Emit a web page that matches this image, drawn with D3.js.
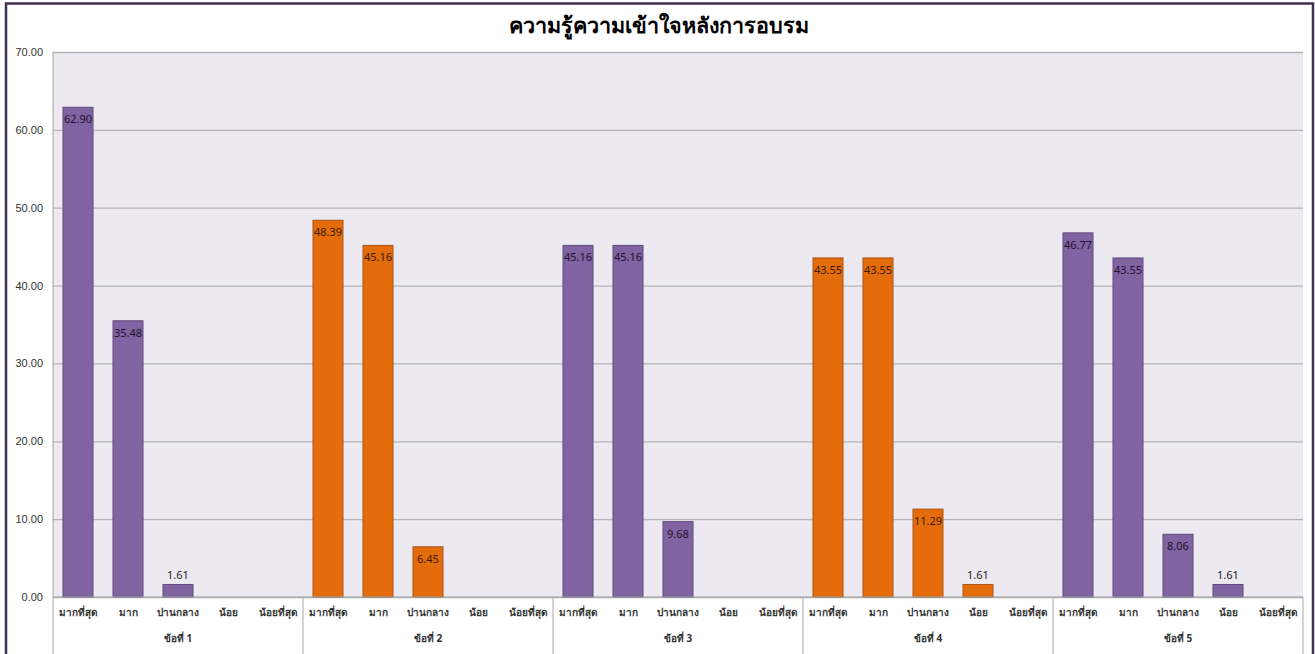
<!DOCTYPE html>
<html>
<head>
<meta charset="utf-8">
<script src="https://cdn.jsdelivr.net/npm/d3@7"></script>
<style>
  body { margin: 0; background: #fff; }
  svg { display: block; font-family: "Noto Sans", "DejaVu Sans", sans-serif; }
</style>
</head>
<body>
<script>
// data
const groups = ["ข้อที่ 1", "ข้อที่ 2", "ข้อที่ 3", "ข้อที่ 4", "ข้อที่ 5"];
const levels = ["มากที่สุด", "มาก", "ปานกลาง", "น้อย", "น้อยที่สุด"];
const values = [
  [62.90, 35.48, 1.61, 0, 0],
  [48.39, 45.16, 6.45, 0, 0],
  [45.16, 45.16, 9.68, 0, 0],
  [43.55, 43.55, 11.29, 1.61, 0],
  [46.77, 43.55, 8.06, 1.61, 0]
];
const groupColors = ["#8064A2", "#E46C0A", "#8064A2", "#E46C0A", "#8064A2"];
const groupStrokes = ["#5f4a7d", "#a9531a", "#5f4a7d", "#a9531a", "#5f4a7d"];
const yTicks = [0, 10, 20, 30, 40, 50, 60, 70];
const title = "ความรู้ความเข้าใจหลังการอบรม";

function createChart() {
  const W = 1315, H = 654;
  const m = {left: 53, right: 12, top: 52, bottom: 57};

  let svg = d3.select("body").append("svg")
    .attr("width", W)
    .attr("height", H);

  svg.append("rect").attr("width", W).attr("height", H).attr("fill", "#fff");

  // flatten to one row per bar
  let rows = [];
  groups.forEach((g, gi) => levels.forEach((l, li) => {
    rows.push({group: g, gi: gi, level: l, key: gi + "|" + li, value: values[gi][li]});
  }));

  let x = d3.scaleBand()
    .domain(rows.map(d => d.key))
    .range([m.left, W - m.right])
    .paddingInner(0.4)
    .paddingOuter(0.2);

  let y = d3.scaleLinear().domain([0, 70]).range([H - m.bottom, m.top]);

  // plot background
  svg.append("rect")
    .attr("x", m.left).attr("y", m.top)
    .attr("width", W - m.right - m.left).attr("height", H - m.bottom - m.top)
    .attr("fill", "#ECEAF0");

  // gridlines + y labels
  svg.append("g")
    .attr("transform", `translate(${m.left},0)`)
    .call(d3.axisLeft(y).tickValues(yTicks).tickSize(-(W - m.right - m.left)).tickFormat(d3.format(".2f")))
    .call(g => g.select(".domain").remove())
    .call(g => g.selectAll(".tick line").attr("stroke", "#b3b3b3").attr("stroke-width", 1.3))
    .call(g => g.selectAll(".tick text").attr("x", -10).attr("fill", "#333").attr("font-size", 11));

  // left axis line, continues through label area
  svg.append("line")
    .attr("x1", m.left).attr("x2", m.left)
    .attr("y1", m.top).attr("y2", H)
    .attr("stroke", "#a6a6a6");

  // group separators under axis
  let groupW = (W - m.right - m.left) / groups.length;
  let gx = d3.scaleLinear().domain([0, groups.length]).range([m.left, W - m.right]);
  svg.selectAll(".sep").data(d3.range(1, groups.length + 1)).enter()
    .append("line")
    .attr("x1", d => gx(d)).attr("x2", d => gx(d))
    .attr("y1", y(0)).attr("y2", H)
    .attr("stroke", "#a6a6a6");

  // bars
  svg.selectAll(".bar").data(rows).enter()
    .append("rect")
    .attr("class", "bar")
    .attr("x", d => x(d.key))
    .attr("y", d => y(d.value))
    .attr("width", x.bandwidth())
    .attr("height", d => y(0) - y(d.value))
    .attr("fill", d => groupColors[d.gi])
    .attr("stroke", d => d.value > 0 ? groupStrokes[d.gi] : "none");

  // value labels
  svg.selectAll(".val").data(rows.filter(d => d.value > 0)).enter()
    .append("text")
    .attr("x", d => x(d.key) + x.bandwidth() / 2)
    .attr("y", d => d.value > 4 ? y(d.value) + 16 : y(d.value) - 5)
    .attr("text-anchor", "middle")
    .attr("font-size", 11)
    .attr("fill", d => d.value > 4 ? (d.gi % 2 ? "#3a1a00" : "#1e1030") : "#222")
    .text(d => d.value.toFixed(2));

  // x axis line
  svg.append("line")
    .attr("x1", m.left).attr("x2", W - m.right)
    .attr("y1", y(0)).attr("y2", y(0))
    .attr("stroke", "#a6a6a6");

  // category labels
  svg.selectAll(".cat").data(rows).enter()
    .append("text")
    .attr("x", d => x(d.key) + x.bandwidth() / 2)
    .attr("y", y(0) + 19)
    .attr("text-anchor", "middle")
    .attr("font-size", 10)
    .attr("font-weight", "bold")
    .attr("fill", "#333")
    .text(d => d.level);

  // group labels
  svg.selectAll(".grp").data(groups).enter()
    .append("text")
    .attr("x", (d, i) => gx(i) + groupW / 2)
    .attr("y", y(0) + 45)
    .attr("text-anchor", "middle")
    .attr("font-size", 10)
    .attr("font-weight", "bold")
    .attr("fill", "#333")
    .text(d => d);

  // title
  svg.append("text")
    .attr("x", W / 2 + 1)
    .attr("y", 33)
    .attr("text-anchor", "middle")
    .attr("font-size", 21.5)
    .attr("font-weight", "bold")
    .attr("fill", "#000")
    .text(title);

  // outer frame
  svg.append("path")
    .attr("d", `M6,${H} V3.5 H1313 V${H}`)
    .attr("fill", "none")
    .attr("stroke", "#403152")
    .attr("stroke-width", 2.5);
}

document.addEventListener("DOMContentLoaded", createChart);
</script>
</body>
</html>
